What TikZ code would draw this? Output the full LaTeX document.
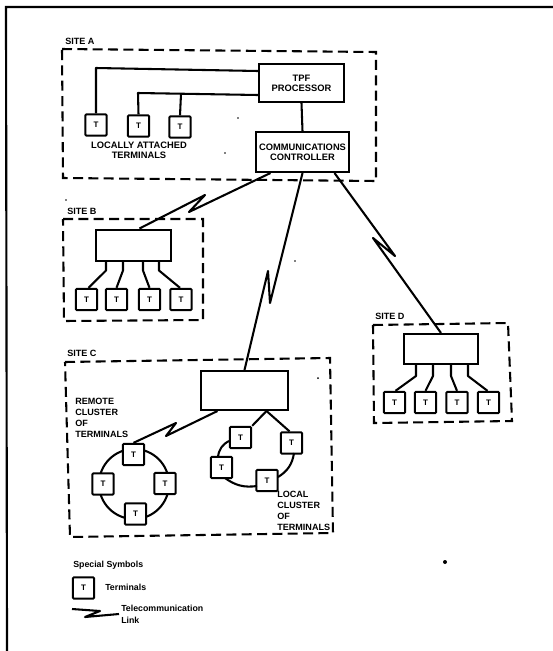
\documentclass[tikz,border=0pt]{standalone}
\usepackage{fontspec}
\setmainfont{Liberation Sans}
\usetikzlibrary{calc}
\tikzset{
  wire/.style={line width=1.55pt,line join=round},
  site/.style={line width=1.55pt,dash pattern=on 7.5pt off 4pt},
  bx/.style={draw,line width=1.5pt,fill=white,inner sep=0pt,align=center,font=\fontsize{7}{7.6}\selectfont\bfseries},
  term/.style={draw,line width=1.5pt,fill=white,inner sep=0pt,rounded corners=0.8pt,minimum size=16pt,font=\fontsize{6}{7}\selectfont\bfseries},
  lab/.style={inner sep=0pt,anchor=west,font=\fontsize{6.8}{8.1}\selectfont\bfseries},
  ctr/.style={inner sep=0pt,align=center,font=\fontsize{7}{7.6}\selectfont\bfseries},
  leg/.style={inner sep=0pt,anchor=west,font=\fontsize{6.6}{7.5}\selectfont\bfseries},
  speck/.style={fill=black,draw=none}
}
\begin{document}
\begin{tikzpicture}[x=0.75pt,y=-0.75pt]
\useasboundingbox (0,0) rectangle (553,651);
% page frame
\coordinate (f0) at (553,7); \coordinate (f1) at (6,7); \coordinate (f2) at (7,651);
\draw[line width=1.6pt] (f0) -- (f1) -- (f2);

% site outlines
\draw[site] (62,49) -- (376,52) -- (376,181) -- (63,178) -- cycle;
\draw[site] (63,219) -- (203,219) -- (203,320) -- (64,321) -- cycle;
\draw[site] (65,362) -- (330,358) -- (333,533) -- (70,537) -- cycle;
\draw[site] (373,325) -- (508,323) -- (512,421) -- (374,423) -- cycle;

% site labels
\node[lab] (sa) at (65,41) {SITE A};
\node[lab] (sb) at (67,211) {SITE B};
\node[lab] (sc) at (67,353) {SITE C};
\node[lab] (sd) at (375,316) {SITE D};

% Site A
\node[bx,minimum width=63.75pt,minimum height=28.5pt] (tpf) at (301.5,83) {TPF\\PROCESSOR};
\node[bx,minimum width=69.75pt,minimum height=30pt] (cc) at (302.5,152) {COMMUNICATIONS\\CONTROLLER};
\node[term] (a1) at (96,125) {T};
\node[term] (a2) at (138.5,126) {T};
\node[term] (a3) at (180,127) {T};
\coordinate (a1up) at (96,68);
\coordinate (a2up) at (138,93);
\coordinate (a3up) at (181,94);
\draw[wire] ($(tpf.west)+(0,-12)$) -- (a1up) -- (a1.north);
\draw[wire] ($(tpf.west)+(0,12)$) -- (a2up) -- (a2.north);
\draw[wire] (a3up) -- (a3.north);
\draw[wire] (tpf.south) -- (cc.north);
\node[ctr] (lat) at (139,150) {LOCALLY ATTACHED\\TERMINALS};

% Site B
\node[bx,minimum width=56.25pt,minimum height=23.25pt] (bb) at (133.5,245) {};
\node[term] (b1) at (86.5,299.5) {T};
\node[term] (b2) at (116.5,299.5) {T};
\node[term] (b3) at (149.5,299.5) {T};
\node[term] (b4) at (181,299.5) {T};
\draw[wire] ($(bb.south)+(-27.5,0)$) -- ++(0,9) -- ($(b1.north)+(2,0)$);
\draw[wire] ($(bb.south)+(-10.5,0)$) -- ++(0,9) -- (b2.north);
\draw[wire] ($(bb.south)+(9.5,0)$) -- ++(0,9) -- (b3.north);
\draw[wire] ($(bb.south)+(25.5,0)$) -- ++(0,9) -- ($(b4.north)+(-1,0)$);

% Site C
\node[bx,minimum width=65.25pt,minimum height=29.25pt] (bc) at (244.5,390.5) {};
% remote ring
\coordinate (rc) at (134,484);
\draw[wire] (rc) circle (35);
\node[term] (r1) at (133.5,454.5) {T};
\node[term] (r2) at (103,484) {T};
\node[term] (r3) at (165,483.5) {T};
\node[term] (r4) at (135.5,514) {T};
% local ring
\node[term] (l1) at (240.5,437.5) {T};
\node[term] (l2) at (291.5,443) {T};
\node[term] (l3) at (221.5,467.5) {T};
\node[term] (l4) at (267,480.5) {T};
\coordinate (l1a) at (229,441);
\coordinate (l3a) at (218,457);
\coordinate (l3b) at (225,478);
\coordinate (l4b) at (257,486);
\coordinate (l4c) at (278,477);
\coordinate (l2c) at (294,453);
\draw[wire] (l1a) to[bend right=28] (l3a);
\draw[wire] (l3b) to[bend right=22] (l4b);
\draw[wire] (l4c) to[bend right=25] (l2c);
\draw[wire] ($(bc.south)+(22,0)$) -- (l1.north east);
\draw[wire] ($(bc.south)+(22,0)$) -- ($(l2.north)+(-2,0)$);
\node[lab,align=left] (rem) at (75,418) {REMOTE\\CLUSTER\\OF\\TERMINALS};
\node[lab,align=left] (loc) at (277,511) {LOCAL\\CLUSTER\\OF\\TERMINALS};
% zigzag in site C
\coordinate (zc1) at (166,436); \coordinate (zc2) at (176,423);
\draw[wire] ($(bc.south)+(-27,0)$) -- (zc1) -- (zc2) -- (r1.north);

% Site D
\node[bx,minimum width=55.5pt,minimum height=22.5pt] (bd) at (441,349) {};
\node[term] (d1) at (394.5,402.5) {T};
\node[term] (d2) at (425.5,402.5) {T};
\node[term] (d3) at (457,402.5) {T};
\node[term] (d4) at (488.5,402.5) {T};
\draw[wire] ($(bd.south)+(-25,0)$) -- ++(0,11) -- ($(d1.north)+(1,0)$);
\draw[wire] ($(bd.south)+(-8,0)$) -- ++(0,11) -- (d2.north);
\draw[wire] ($(bd.south)+(10,0)$) -- ++(0,11) -- (d3.north);
\draw[wire] ($(bd.south)+(27,0)$) -- ++(0,11) -- ($(d4.north)+(-1,0)$);

% telecommunication links
\coordinate (zb1) at (189,212); \coordinate (zb2) at (205,195);
\draw[wire] ($(cc.south)+(-32,0)$) -- (zb1) -- (zb2) -- ($(bb.north)+(6,0)$);
\coordinate (zm1) at (270,303); \coordinate (zm2) at (268,271);
\draw[wire] (cc.south) -- (zm1) -- (zm2) -- (bc.north);
\coordinate (zd1) at (395,256); \coordinate (zd2) at (373,238);
\draw[wire] ($(cc.south)+(32,0)$) -- (zd1) -- (zd2) -- (bd.north);

% legend
\node[leg] (ss) at (73,565) {Special Symbols};
\node[term] (lt) at (83.5,588) {T};
\node[leg] (lt1) at (105,587) {Terminals};
\coordinate (k0) at (72,609); \coordinate (k1) at (100,611); \coordinate (k2) at (85,617); \coordinate (k3) at (119,614);
\draw[wire] (k0) -- (k1) -- (k2) -- (k3);
\node[leg] (lt2) at (121,608) {Telecommunication};
\node[leg] (lt3) at (121,620) {Link};

% scan specks
\fill[speck] (445,562) circle (2);
\fill[speck] (318,378) circle (1);
\fill[speck] (295,261) circle (0.8);
\fill[speck] (66,200) circle (0.8);
\fill[speck] (238,118) circle (0.8);
\fill[speck] (225,153) circle (0.8);
\end{tikzpicture}
\end{document}
